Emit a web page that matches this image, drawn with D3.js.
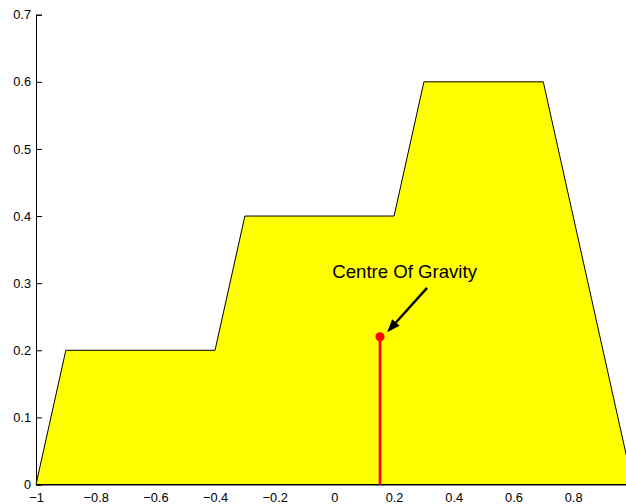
<!DOCTYPE html>
<html>
<head>
<meta charset="utf-8">
<script src="https://cdn.jsdelivr.net/npm/d3@7"></script>
<style>
  html, body { margin: 0; padding: 0; background: #fff; }
  svg { display: block; }
  text { font-family: "Liberation Sans", Arial, Helvetica, sans-serif; }
</style>
</head>
<body>
<svg id="chart" width="626" height="504"></svg>
<script>
// Output fuzzy set (aggregated membership) outline
const shapeX = [-1, -0.9, -0.4, -0.3, 0.2, 0.3, 0.7, 1];
const shapeY = [0, 0.2, 0.2, 0.4, 0.4, 0.6, 0.6, 0];

// Centre of gravity marker
const cogX = [0.1528];
const cogY = [0.22];

// Annotation
const noteText = ["Centre Of Gravity"];
const arrowFrom = [0.3105, 0.293];
const arrowTo = [0.177, 0.227];
const noteAt = [-0.007, 0.318];

// Axis ticks
const xTicks = [-1, -0.8, -0.6, -0.4, -0.2, 0, 0.2, 0.4, 0.6, 0.8];
const yTicks = [0, 0.1, 0.2, 0.3, 0.4, 0.5, 0.6, 0.7];

const svg = d3.select("#chart");
const x = d3.scaleLinear().domain([-1, 1]).range([36, 632.8]);
const y = d3.scaleLinear().domain([0, 0.7]).range([484.5, 14.7]);

const fmt = v => (v === 0 ? "0" : (Math.abs(v) === 1 ? d3.format("d")(v) : d3.format(".1f")(v))).replace("-", "\u2212");

// y axis (ticks pointing inward), drawn beneath the filled shape
const yAxis = d3.axisLeft(y).tickValues(yTicks).tickSize(-6).tickPadding(5).tickFormat(fmt);
const gy = svg.append("g").attr("transform", `translate(${x(-1)},0)`).call(yAxis);
gy.select(".domain").attr("stroke", "#000").attr("stroke-width", 1);
gy.selectAll(".tick line").attr("stroke", "#000");
gy.selectAll(".tick text").attr("font-size", 12.8).attr("fill", "#000").attr("x", -5);

// x axis
const xAxis = d3.axisBottom(x).tickValues(xTicks).tickSize(-6).tickPadding(10).tickFormat(fmt);
const gx = svg.append("g").attr("transform", `translate(0,${y(0)})`).call(xAxis);
gx.select(".domain").attr("stroke", "#000").attr("stroke-width", 1);
gx.selectAll(".tick line").attr("stroke", "#000");
gx.selectAll(".tick text").attr("font-size", 12.8).attr("fill", "#000").attr("dy", "0.55em");

// filled membership shape
const pts = shapeX.map((v, i) => [x(v), y(shapeY[i])]);
svg.append("path")
  .attr("d", d3.line()(pts) + "Z")
  .attr("fill", "#ffff00")
  .attr("stroke", "#000")
  .attr("stroke-width", 1);

// bottom axis line redrawn over the fill
svg.append("line")
  .attr("x1", x(-1)).attr("x2", x(1))
  .attr("y1", y(0)).attr("y2", y(0))
  .attr("stroke", "#000").attr("stroke-width", 1.2);

// centre of gravity stem and dot
svg.append("line")
  .attr("x1", x(cogX[0])).attr("x2", x(cogX[0]))
  .attr("y1", y(0)).attr("y2", y(cogY[0]))
  .attr("stroke", "#ff0000").attr("stroke-width", 2.7);
svg.append("circle")
  .attr("cx", x(cogX[0])).attr("cy", y(cogY[0]))
  .attr("r", 4.6).attr("fill", "#ff0000");

// arrow
const ax0 = x(arrowFrom[0]), ay0 = y(arrowFrom[1]);
const ax1 = x(arrowTo[0]), ay1 = y(arrowTo[1]);
const ang = Math.atan2(ay1 - ay0, ax1 - ax0);
const headLen = 13, headHalf = 5;
const bx = ax1 - headLen * Math.cos(ang), by = ay1 - headLen * Math.sin(ang);
svg.append("line")
  .attr("x1", ax0).attr("y1", ay0).attr("x2", bx).attr("y2", by)
  .attr("stroke", "#000").attr("stroke-width", 2.4);
svg.append("path")
  .attr("d", d3.line()([
    [ax1, ay1],
    [bx + headHalf * Math.sin(ang), by - headHalf * Math.cos(ang)],
    [bx - headHalf * Math.sin(ang), by + headHalf * Math.cos(ang)]
  ]) + "Z")
  .attr("fill", "#000");

// annotation text
svg.append("text")
  .attr("x", x(noteAt[0])).attr("y", y(noteAt[1]))
  .attr("dy", "0.35em")
  .attr("font-size", 18.6)
  .attr("fill", "#000")
  .text(noteText[0]);
</script>
</body>
</html>
